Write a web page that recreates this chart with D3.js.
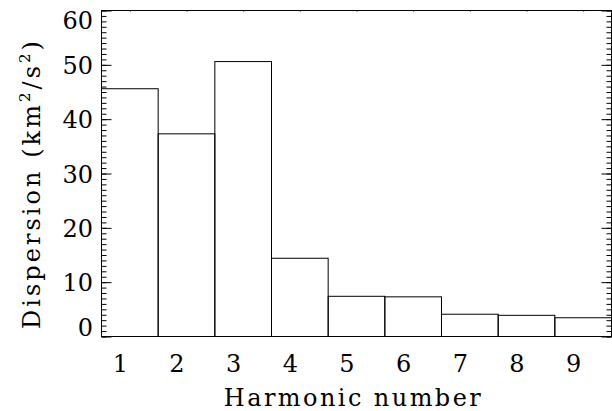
<!DOCTYPE html>
<html>
<head>
<meta charset="utf-8">
<script src="https://cdn.jsdelivr.net/npm/d3@7"></script>
<style>
  html, body { margin: 0; padding: 0; background: #fff; }
  svg { display: block; }
  text { font-family: "DejaVu Serif", serif; fill: #000; }
</style>
</head>
<body>
<svg id="chart" width="612" height="411"></svg>
<script>
// Velocity dispersion per harmonic number
const harmonics = [1, 2, 3, 4, 5, 6, 7, 8, 9];
const dispersion = [45.6, 37.3, 50.6, 14.4, 7.4, 7.3, 4.1, 3.9, 3.45];
const yMajorTicks = [0, 10, 20, 30, 40, 50, 60];
const yMinorTicks = d3.range(0, 61, 1);
const xTitle = "Harmonic number";

const W = 612, H = 411;
const margin = { left: 101.5, right: 0.5, top: 10.5, bottom: 74.5 };
const svg = d3.select("#chart");

const x = d3.scaleLinear().domain([0.5, 9.5]).range([margin.left, W - margin.right]);
const y = d3.scaleLinear().domain([0, 60]).range([H - margin.bottom, margin.top]);

const FS = 24;

// histogram bars
svg.append("g")
  .selectAll("rect")
  .data(harmonics.map((h, i) => ({ h, v: dispersion[i] })))
  .join("rect")
  .attr("x", d => x(d.h - 0.5))
  .attr("width", d => x(d.h + 0.5) - x(d.h - 0.5))
  .attr("y", d => y(d.v))
  .attr("height", d => y(0) - y(d.v))
  .attr("fill", "none")
  .attr("stroke", "#000")
  .attr("stroke-width", 1);

// left axis: major ticks with labels, minor ticks without
const left = svg.append("g").attr("transform", `translate(${margin.left},0)`);
left.append("g")
  .call(d3.axisLeft(y).tickValues(yMinorTicks).tickSize(-5).tickFormat(""))
  .call(g => g.select(".domain").remove());
const leftMajor = left.append("g")
  .call(d3.axisLeft(y).tickValues(yMajorTicks).tickSize(-10).tickPadding(8.5))
  .call(g => g.select(".domain").remove());
leftMajor.selectAll("text")
  .attr("font-size", FS)
  .attr("dy", d => d === 60 ? "0.74em" : d === 0 ? "-0.06em" : "0.36em");

// right axis: ticks pointing inward
const right = svg.append("g").attr("transform", `translate(${W - margin.right},0)`);
right.append("g")
  .call(d3.axisRight(y).tickValues(yMinorTicks).tickSize(-5).tickFormat(""))
  .call(g => g.select(".domain").remove());
right.append("g")
  .call(d3.axisRight(y).tickValues(yMajorTicks).tickSize(-10).tickFormat(""))
  .call(g => g.select(".domain").remove());

// top axis: tiny ticks at harmonic centres
svg.append("g")
  .attr("transform", `translate(0,${margin.top})`)
  .call(d3.axisTop(x).tickValues(harmonics).tickSize(-1.5).tickFormat(""))
  .call(g => g.select(".domain").remove())
  .selectAll("line").attr("stroke", "#777");

// bottom axis labels
const bottom = svg.append("g")
  .attr("transform", `translate(0,${H - margin.bottom})`)
  .call(d3.axisBottom(x).tickValues(harmonics).tickSize(0).tickPadding(18.5).tickFormat(d3.format("d")))
  .call(g => g.select(".domain").remove());
bottom.selectAll("text")
  .attr("font-size", FS)
  .attr("dx", -10);

// plot frame
svg.append("rect")
  .attr("x", x.range()[0]).attr("y", y.range()[1])
  .attr("width", x.range()[1] - x.range()[0])
  .attr("height", y.range()[0] - y.range()[1])
  .attr("fill", "none").attr("stroke", "#000").attr("stroke-width", 1);

// spread a text element so it covers the given length
function spread(sel, target) {
  const node = sel.node();
  const n = node.textContent.length;
  const natural = node.getComputedTextLength();
  sel.attr("letter-spacing", Math.max(0, (target - natural) / (n - 1)));
}

// x-axis title
const xt = svg.append("text")
  .attr("x", (x.range()[0] + x.range()[1]) / 2 - 3)
  .attr("y", 406)
  .attr("text-anchor", "middle")
  .attr("font-size", FS)
  .text(xTitle);
spread(xt, 257);

// y-axis title with superscripts
const yt = svg.append("text")
  .attr("transform", `translate(40,${(y.range()[0] + y.range()[1]) / 2 + 10}) rotate(-90)`)
  .attr("text-anchor", "middle")
  .attr("font-size", FS);
yt.append("tspan").text("Dispersion (km");
yt.append("tspan").attr("font-size", 15).attr("dy", -10).text("2");
yt.append("tspan").attr("dy", 10).text("/s");
yt.append("tspan").attr("font-size", 15).attr("dy", -10).text("2");
yt.append("tspan").attr("dy", 10).text(")");
spread(yt, 288);
</script>
</body>
</html>
